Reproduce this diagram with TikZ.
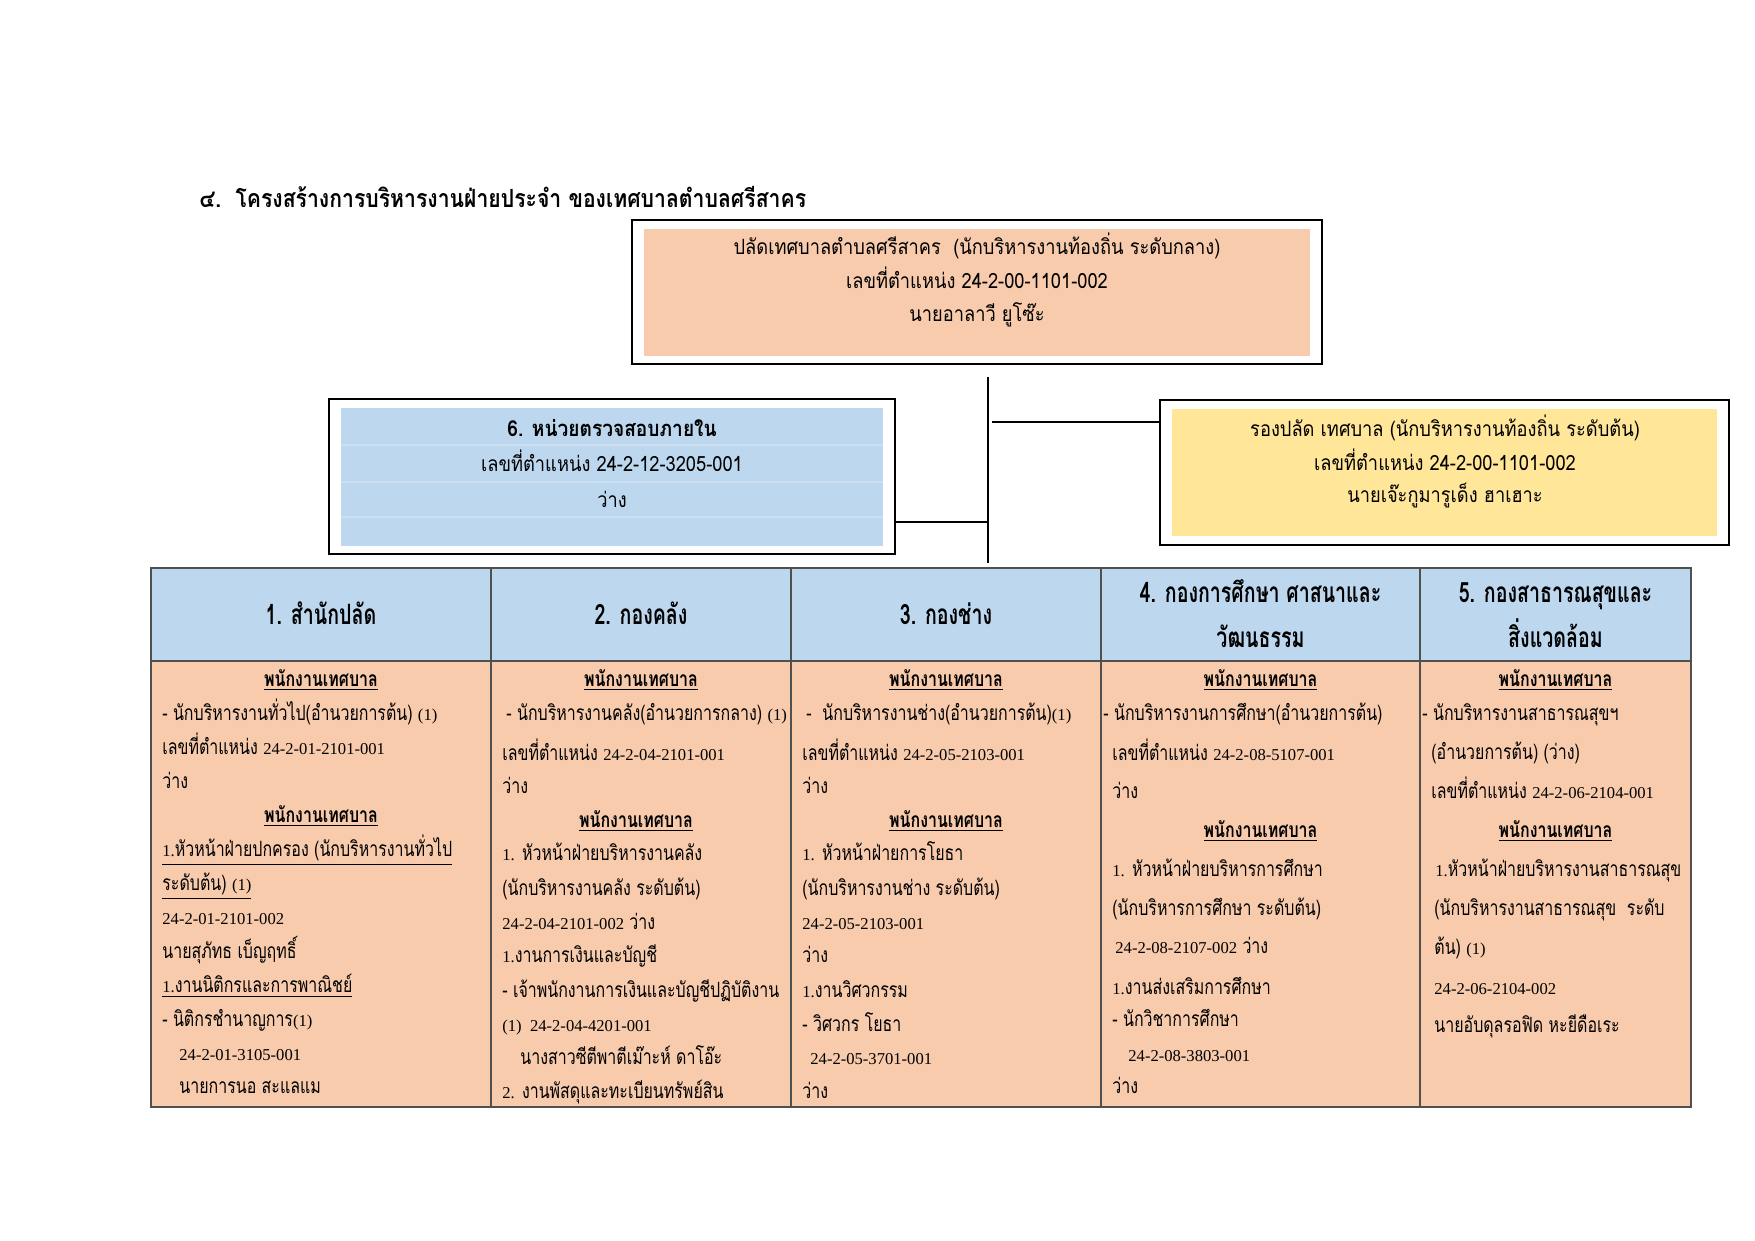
\documentclass[tikz,border=0pt]{standalone}
\usepackage{fontspec}
\newfontfamily\thaiT[Script=Thai,FakeStretch=0.847]{Loma}
\newfontfamily\thaiB[Script=Thai,FakeStretch=0.87]{Loma}
\newfontfamily\thaiH[Script=Thai,FakeStretch=0.70]{Loma}
\newfontfamily\thaiC[Script=Thai,FakeStretch=0.76]{Loma}
\newfontfamily\latn{Liberation Serif}
\newcommand\titlef{\thaiT\bfseries\fontsize{12.5}{14}\selectfont}
\newcommand\boxf{\thaiB\fontsize{10.5}{12}\selectfont}
\newcommand\boxfb{\thaiB\bfseries\fontsize{11}{12}\selectfont}
\newcommand\headf{\thaiH\bfseries\fontsize{14}{16}\selectfont}
\newcommand\bodyf{\thaiC\fontsize{10.5}{12}\selectfont}
\newcommand\bodyfb{\thaiC\bfseries\fontsize{10.5}{12}\selectfont}
\newcommand\nm[1]{{\latn\fontsize{8.3}{10}\selectfont #1}}
\newcommand\ul[1]{\underline{#1}}
\definecolor{peach}{HTML}{F8CBAD}
\definecolor{hblue}{HTML}{BDD7EE}
\definecolor{lblue}{HTML}{CCE0F2}
\definecolor{gold}{HTML}{FFE699}
\definecolor{grid}{HTML}{505050}
\tikzset{
  outerbox/.style={draw=black,line width=1.1pt,fill=white,inner sep=0pt},
  innerbox/.style={inner sep=0pt,draw=none},
  hcell/.style={draw=grid,line width=0.8pt,fill=hblue,inner sep=0pt,minimum height=46.5pt},
  bcell/.style={draw=grid,line width=0.8pt,fill=peach,inner sep=0pt,minimum height=223pt},
  conn/.style={draw=black,line width=1.1pt},
  bl/.style={anchor=mid west,inner sep=0pt,font=\bodyf,yshift=-1.8pt},
  bc/.style={anchor=mid,inner sep=0pt,font=\bodyfb,yshift=-1.8pt},
  boxt/.style={anchor=mid,inner sep=0pt,font=\boxf,yshift=-2pt},
  headt/.style={anchor=mid,inner sep=0pt,font=\headf,yshift=-2.6pt},
}
\begin{document}
\begin{tikzpicture}[x=0.5pt,y=-0.5pt]
\fill[white] (0,0) rectangle (1755,1241);
\useasboundingbox (0,0) rectangle (1755,1241);

% title
\node[anchor=mid west,inner sep=0pt,font=\titlef,yshift=-2pt] (title) at (199,199) {๔.\ \ โครงสร้างการบริหารงานฝ่ายประจำ ของเทศบาลตำบลศรีสาคร};

% top box
\node[outerbox,minimum width=345pt,minimum height=72pt] (top) at (977,292) {};
\node[innerbox,fill=peach,minimum width=333pt,minimum height=63.5pt] (topin) at (977,292.5) {};
\node[boxt] (t1) at (977,246) {ปลัดเทศบาลตำบลศรีสาคร\ \ (นักบริหารงานท้องถิ่น ระดับกลาง)};
\node[boxt] (t2) at (977,280) {เลขที่ตำแหน่ง 24-2-00-1101-002};
\node[boxt] (t3) at (977,313) {นายอาลาวี ยูโซ๊ะ};

% left box (internal audit)
\node[outerbox,minimum width=283pt,minimum height=77.5pt] (lbox) at (612,476.5) {};
\node[innerbox,fill=hblue,minimum width=271pt,minimum height=69pt] (lboxin) at (612,477) {};
\draw[lblue,line width=0.6pt] (341,445) -- (883,445) (341,482) -- (883,482) (341,517) -- (883,517);
\node[anchor=mid,inner sep=0pt,font=\boxfb,yshift=-2pt] (l1) at (612,428) {6. หน่วยตรวจสอบภายใน};
\node[boxt] (l2) at (612,463) {เลขที่ตำแหน่ง 24-2-12-3205-001};
\node[boxt] (l3) at (612,499) {ว่าง};

% right box (deputy)
\node[outerbox,minimum width=284.5pt,minimum height=72.5pt] (rbox) at (1444.5,472.5) {};
\node[innerbox,fill=gold,minimum width=272.5pt,minimum height=63.5pt] (rboxin) at (1444.5,472.5) {};
\node[boxt] (r1) at (1445,428) {รองปลัด เทศบาล (นักบริหารงานท้องถิ่น ระดับต้น)};
\node[boxt] (r2) at (1445,462) {เลขที่ตำแหน่ง 24-2-00-1101-002};
\node[boxt] (r3) at (1445,494) {นายเจ๊ะกูมารูเด็ง ฮาเฮาะ};

% connectors
\coordinate (trTop) at (988,377);
\coordinate (trBot) at (988,563);
\coordinate (rj) at (992,422);
\coordinate (lj) at (988,522);
\draw[conn] (trTop) -- (trBot);
\draw[conn] (rj) -- (rj -| rbox.west);
\draw[conn] (lbox.east |- lj) -- (lj);

% table header
\node[hcell,minimum width=170pt] (h1) at (321,614.5) {};
\node[hcell,minimum width=150pt] (h2) at (641,614.5) {};
\node[hcell,minimum width=155pt] (h3) at (946,614.5) {};
\node[hcell,minimum width=159.5pt] (h4) at (1260.5,614.5) {};
\node[hcell,minimum width=135.5pt] (h5) at (1555.5,614.5) {};
\node[headt] (h1t) at (321,615) {1. สำนักปลัด};
\node[headt] (h2t) at (641,615) {2. กองคลัง};
\node[headt] (h3t) at (946,615) {3. กองช่าง};
\node[headt] (h4a) at (1260.5,593) {4. กองการศึกษา ศาสนาและ};
\node[headt] (h4b) at (1260.5,638) {วัฒนธรรม};
\node[headt] (h5a) at (1555.5,593) {5. กองสาธารณสุขและ};
\node[headt] (h5b) at (1555.5,638) {สิ่งแวดล้อม};

% table body
\node[bcell,minimum width=170pt] (b1) at (321,884) {};
\node[bcell,minimum width=150pt] (b2) at (641,884) {};
\node[bcell,minimum width=155pt] (b3) at (946,884) {};
\node[bcell,minimum width=159.5pt] (b4) at (1260.5,884) {};
\node[bcell,minimum width=135.5pt] (b5) at (1555.5,884) {};

% column 1
\node[bc] (a1) at (321,679) {\ul{พนักงานเทศบาล}};
\node[bl] (a2) at (162,713) {- นักบริหารงานทั่วไป(อำนวยการต้น) \nm{(1)}};
\node[bl] (a3) at (162,747) {เลขที่ตำแหน่ง \nm{24-2-01-2101-001}};
\node[bl] (a4) at (162,781) {ว่าง};
\node[bc] (a5) at (321,815) {\ul{พนักงานเทศบาล}};
\node[bl] (a6) at (162,849) {\ul{\nm{1.}หัวหน้าฝ่ายปกครอง (นักบริหารงานทั่วไป}};
\node[bl] (a7) at (162,883) {\ul{ระดับต้น) \nm{(1)}}};
\node[bl] (a8) at (162,917) {\nm{24-2-01-2101-002}};
\node[bl] (a9) at (162,951) {นายสุภัทธ เบ็ญฤทธิ์};
\node[bl] (a10) at (162,985) {\ul{\nm{1.}งานนิติกรและการพาณิชย์}};
\node[bl] (a11) at (162,1019) {- นิติกรชำนาญการ\nm{(1)}};
\node[bl] (a12) at (179,1053) {\nm{24-2-01-3105-001}};
\node[bl] (a13) at (179,1086) {นายการนอ สะแลแม};

% column 2
\node[bc] (c1) at (641,679) {\ul{พนักงานเทศบาล}};
\node[bl] (c2) at (506,713) {- นักบริหารงานคลัง(อำนวยการกลาง) \nm{(1)}};
\node[bl] (c3) at (502,753) {เลขที่ตำแหน่ง \nm{24-2-04-2101-001}};
\node[bl] (c4) at (502,786) {ว่าง};
\node[bc] (c5) at (636,820) {\ul{พนักงานเทศบาล}};
\node[bl] (c6) at (502,853) {\nm{1.} หัวหน้าฝ่ายบริหารงานคลัง};
\node[bl] (c7) at (502,888) {(นักบริหารงานคลัง ระดับต้น)};
\node[bl] (c8) at (502,922) {\nm{24-2-04-2101-002} ว่าง};
\node[bl] (c9) at (502,955) {\nm{1.}งานการเงินและบัญชี};
\node[bl] (c10) at (502,990) {- เจ้าพนักงานการเงินและบัญชีปฏิบัติงาน};
\node[bl] (c11) at (502,1024) {\nm{(1)\ \ 24-2-04-4201-001}};
\node[bl] (c12) at (520,1057) {นางสาวซีตีพาตีเม๊าะห์ ดาโอ๊ะ};
\node[bl] (c13) at (502,1091) {\nm{2.} งานพัสดุและทะเบียนทรัพย์สิน};

% column 3
\node[bc] (d1) at (946,679) {\ul{พนักงานเทศบาล}};
\node[bl] (d2) at (806,713) {-\ \ นักบริหารงานช่าง(อำนวยการต้น)\nm{(1)}};
\node[bl] (d3) at (802,753) {เลขที่ตำแหน่ง \nm{24-2-05-2103-001}};
\node[bl] (d4) at (802,786) {ว่าง};
\node[bc] (d5) at (946,820) {\ul{พนักงานเทศบาล}};
\node[bl] (d6) at (802,853) {\nm{1.} หัวหน้าฝ่ายการโยธา};
\node[bl] (d7) at (802,888) {(นักบริหารงานช่าง ระดับต้น)};
\node[bl] (d8) at (802,922) {\nm{24-2-05-2103-001}};
\node[bl] (d9) at (802,955) {ว่าง};
\node[bl] (d10) at (802,990) {\nm{1.}งานวิศวกรรม};
\node[bl] (d11) at (802,1024) {- วิศวกร โยธา};
\node[bl] (d12) at (810,1057) {\nm{24-2-05-3701-001}};
\node[bl] (d13) at (802,1091) {ว่าง};

% column 4
\node[bc] (e1) at (1260.5,679) {\ul{พนักงานเทศบาล}};
\node[bl] (e2) at (1103,713) {- นักบริหารงานการศึกษา(อำนวยการต้น)};
\node[bl] (e3) at (1112,753) {เลขที่ตำแหน่ง \nm{24-2-08-5107-001}};
\node[bl] (e4) at (1112,791) {ว่าง};
\node[bc] (e5) at (1260.5,830) {\ul{พนักงานเทศบาล}};
\node[bl] (e6) at (1112,869) {\nm{1.} หัวหน้าฝ่ายบริหารการศึกษา};
\node[bl] (e7) at (1112,908) {(นักบริหารการศึกษา ระดับต้น)};
\node[bl] (e8) at (1115,946) {\nm{24-2-08-2107-002} ว่าง};
\node[bl] (e9) at (1112,987) {\nm{1.}งานส่งเสริมการศึกษา};
\node[bl] (e10) at (1112,1019) {- นักวิชาการศึกษา};
\node[bl] (e11) at (1128,1054) {\nm{24-2-08-3803-001}};
\node[bl] (e12) at (1112,1086) {ว่าง};

% column 5
\node[bc] (f1) at (1555.5,679) {\ul{พนักงานเทศบาล}};
\node[bl] (f2) at (1422,713) {- นักบริหารงานสาธารณสุขฯ};
\node[bl] (f3) at (1431,752) {(อำนวยการต้น) (ว่าง)};
\node[bl] (f4) at (1431,791) {เลขที่ตำแหน่ง \nm{24-2-06-2104-001}};
\node[bc] (f5) at (1555.5,830) {\ul{พนักงานเทศบาล}};
\node[bl] (f6) at (1435,869) {\nm{1.}หัวหน้าฝ่ายบริหารงานสาธารณสุข};
\node[bl] (f7) at (1434,908) {(นักบริหารงานสาธารณสุข\ \ ระดับ};
\node[bl] (f8) at (1434,947) {ต้น) \nm{(1)}};
\node[bl] (f9) at (1434,987) {\nm{24-2-06-2104-002}};
\node[bl] (f10) at (1434,1025) {นายอับดุลรอฟิด หะยีดือเระ};
\end{tikzpicture}
\end{document}
